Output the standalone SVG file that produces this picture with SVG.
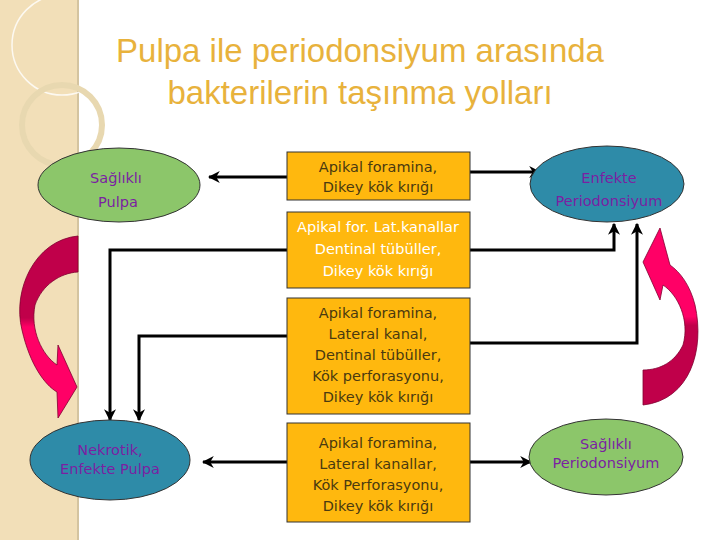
<svg xmlns="http://www.w3.org/2000/svg" width="720" height="540" viewBox="0 0 720 540">
<defs>
<style>
.t{font-family:"DejaVu Sans",Verdana,sans-serif;font-size:14.5px;text-anchor:middle}
.p{fill:#7B1FA2}
.d{fill:#4A3A10}
.w{fill:#FFFFFF}
.box{fill:#FFB80E;stroke:#333;stroke-width:1}
.ln{fill:none;stroke:#000;stroke-width:3}
.ti{font-family:'Liberation Sans',Arial,sans-serif;font-size:33px;fill:#E8B23C;text-anchor:middle}
</style>
<marker id="ah" viewBox="0 0 10 10" refX="9" refY="5" markerWidth="4" markerHeight="4" orient="auto"><path d="M0,0 L10,5 L0,10 L3,5 Z" fill="#000"/></marker>
<linearGradient id="gl" x1="0" y1="0" x2="0" y2="1"><stop offset="0" stop-color="#C0004A"/><stop offset="0.45" stop-color="#C0004A"/><stop offset="0.5" stop-color="#FF0066"/><stop offset="1" stop-color="#FF0066"/></linearGradient>
<linearGradient id="gr" x1="0" y1="1" x2="0" y2="0"><stop offset="0" stop-color="#C0004A"/><stop offset="0.45" stop-color="#C0004A"/><stop offset="0.5" stop-color="#FF0066"/><stop offset="1" stop-color="#FF0066"/></linearGradient>
</defs>
<rect width="720" height="540" fill="#fff"/>
<rect x="0" y="0" width="78" height="540" fill="#F2DFB8"/>
<line x1="78" y1="0" x2="78" y2="540" stroke="#D4C4A0" stroke-width="2"/>
<circle cx="62" cy="45" r="50" fill="none" stroke="#fff" stroke-width="1.5" opacity="0.8"/>
<circle cx="62" cy="125" r="40" fill="none" stroke="#E8D8B0" stroke-width="6"/>
<text class="ti" x="360" y="62">Pulpa ile periodonsiyum arasında</text>
<text class="ti" x="360" y="104">bakterilerin taşınma yolları</text>
<g id="arrows-curved">
<path d="M78,236 C35,240 12,290 22,330 C30,365 45,385 57,392 L58,418 L77,387 L58,345 L57,365 C42,355 30,330 35,305 C42,285 60,273 78,272 Z" fill="url(#gl)" stroke="#800030" stroke-width="0.8"/>
<path d="M643,405 C690,400 705,350 695,305 C690,285 680,272 670,265 L660,228 L643,262 L660,300 L663,285 C678,295 690,320 683,345 C675,362 660,370 643,370 Z" fill="url(#gr)" stroke="#800030" stroke-width="0.8"/>
</g>
<g id="connectors">
<line class="ln" x1="287" y1="177" x2="209" y2="177" marker-end="url(#ah)"/>
<line class="ln" x1="470" y1="172" x2="540" y2="172" marker-end="url(#ah)"/>
<polyline class="ln" points="287,250 110,250 110,420" marker-end="url(#ah)"/>
<polyline class="ln" points="470,250 614,250 614,224" marker-end="url(#ah)"/>
<polyline class="ln" points="287,336 139,336 139,420" marker-end="url(#ah)"/>
<polyline class="ln" points="470,343 637,343 637,224" marker-end="url(#ah)"/>
<line class="ln" x1="287" y1="462" x2="203" y2="462" marker-end="url(#ah)"/>
<line class="ln" x1="470" y1="462" x2="531" y2="462" marker-end="url(#ah)"/>
</g>
<g id="saglikli-pulpa"><ellipse cx="119" cy="185" rx="81" ry="37" fill="#8CC66A" stroke="#333"/>
<text class="t p" x="116" y="183">Sağlıklı</text><text class="t p" x="118" y="207">Pulpa</text></g>
<g id="enfekte-periodonsiyum"><ellipse cx="607" cy="184" rx="77" ry="38" fill="#2E8BA8" stroke="#333"/>
<text class="t p" x="609" y="183">Enfekte</text><text class="t p" x="609" y="206">Periodonsiyum</text></g>
<g id="nekrotik"><ellipse cx="110" cy="460" rx="80" ry="40" fill="#2E8BA8" stroke="#333"/>
<text class="t p" x="110" y="455">Nekrotik,</text><text class="t p" x="110" y="474">Enfekte Pulpa</text></g>
<g id="saglikli-periodonsiyum"><ellipse cx="606" cy="457" rx="77" ry="38" fill="#8CC66A" stroke="#333"/>
<text class="t p" x="606" y="449">Sağlıklı</text><text class="t p" x="606" y="468">Periodonsiyum</text></g>
<g id="box1"><rect class="box" x="287" y="152" width="183" height="48"/>
<text class="t d" x="378" y="172">Apikal foramina,</text><text class="t d" x="378" y="192">Dikey kök kırığı</text></g>
<g id="box2"><rect class="box" x="287" y="212" width="183" height="76"/>
<text class="t w" x="378" y="232">Apikal for. Lat.kanallar</text><text class="t w" x="378" y="254">Dentinal tübüller,</text><text class="t w" x="378" y="276">Dikey kök kırığı</text></g>
<g id="box3"><rect class="box" x="287" y="298" width="183" height="116"/>
<text class="t d" x="378" y="318">Apikal foramina,</text><text class="t d" x="378" y="339">Lateral kanal,</text><text class="t d" x="378" y="360">Dentinal tübüller,</text><text class="t d" x="378" y="381">Kök perforasyonu,</text><text class="t d" x="378" y="402">Dikey kök kırığı</text></g>
<g id="box4"><rect class="box" x="287" y="423" width="183" height="99"/>
<text class="t d" x="378" y="448">Apikal foramina,</text><text class="t d" x="378" y="469">Lateral kanallar,</text><text class="t d" x="378" y="490">Kök Perforasyonu,</text><text class="t d" x="378" y="511">Dikey kök kırığı</text></g>
</svg>
